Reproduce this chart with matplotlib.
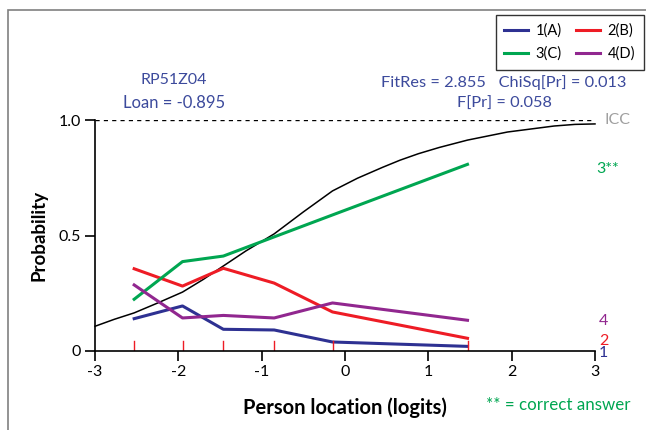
import matplotlib.pyplot as plt
from matplotlib.patches import Rectangle

plt.rcParams['font.family'] = ['Lato', 'DejaVu Sans']

# class interval locations (logits)
bins = [-2.53, -1.95, -1.46, -0.85, -0.15, 1.47]

# observed proportions per response option
opt1 = [0.140, 0.195, 0.094, 0.091, 0.039, 0.020]
opt2 = [0.356, 0.281, 0.358, 0.294, 0.169, 0.055]
opt3 = [0.224, 0.387, 0.411, 0.494, 0.589, 0.808]
opt4 = [0.286, 0.143, 0.154, 0.143, 0.208, 0.133]

# item characteristic curve
icc_x = [-3.0, -2.77, -2.53, -2.26, -1.95, -1.70, -1.46, -1.19, -0.85,
         -0.50, -0.15, 0.15, 0.45, 0.66, 0.88, 1.13, 1.47, 1.95, 2.51,
         2.76, 3.0]
icc_y = [0.107, 0.137, 0.165, 0.206, 0.255, 0.310, 0.368, 0.433, 0.507,
         0.602, 0.693, 0.748, 0.795, 0.826, 0.854, 0.881, 0.913, 0.948,
         0.974, 0.981, 0.983]

blue = '#2e3192'
red = '#ee1c25'
green = '#00a651'
purple = '#91278f'
txtblue = '#3c4a9c'

fig = plt.figure(figsize=(6.46, 4.30), dpi=100)
fig.patches.append(Rectangle((8/646, -0.1), 1.2, 1 - 10/430 + 0.1,
                             transform=fig.transFigure, fill=False,
                             edgecolor='#808080', linewidth=1.2))

ax = fig.add_axes([95/646, 1 - 351/430, 500/646, 231/430])
ax.set_xlim(-3, 3)
ax.set_ylim(0, 1.0)

ax.plot([-3, 3], [1, 1], '--', color='black', linewidth=1, dashes=(3, 3))
ax.plot(icc_x, icc_y, color='black', linewidth=1.1, clip_on=False)
l1, = ax.plot(bins, opt1, color=blue, linewidth=2.2, label='1(A)')
l2, = ax.plot(bins, opt2, color=red, linewidth=2.2, label='2(B)')
l3, = ax.plot(bins, opt3, color=green, linewidth=2.2, label='3(C)')
l4, = ax.plot(bins, opt4, color=purple, linewidth=2.2, label='4(D)')

# red interval markers
for b in bins:
    ax.plot([b, b], [0, 0.045], color=red, linewidth=1)

for s in ['top', 'right']:
    ax.spines[s].set_visible(False)
ax.spines['left'].set_linewidth(1.2)
ax.spines['bottom'].set_linewidth(1.2)
ax.set_xticks([-3, -2, -1, 0, 1, 2, 3])
ax.set_xticklabels(['-3', '-2', '-1', '0', '1', '2', '3'])
ax.set_yticks([0, 0.5, 1.0])
ax.set_yticklabels(['0', '0.5', '1.0'])
ax.tick_params(direction='out', length=7, width=1.2, labelsize=11.5,
               colors='black', pad=3)
ax.set_xlabel('Person location (logits)', fontsize=14.5, fontweight='bold',
              labelpad=13)
ax.set_ylabel('Probability', fontsize=13.5, fontweight='bold', labelpad=8)

ax.text(3.12, 1.0, 'ICC', color='#a0a0a0', fontsize=11.5, va='center',
        ha='left', clip_on=False)
ax.text(3.02, 0.79, '3**', color=green, fontsize=11.5, va='center',
        ha='left', clip_on=False)
ax.text(3.05, 0.128, '4', color=purple, fontsize=11.5, va='center',
        ha='left', clip_on=False)
ax.text(3.05, 0.045, '2', color=red, fontsize=11.5, va='center',
        ha='left', clip_on=False)
ax.text(3.05, -0.01, '1', color=blue, fontsize=11.5, va='center',
        ha='left', clip_on=False)

fig.text(174/646, 1 - 80/430, 'RP51Z04', color=txtblue, fontsize=11.5,
         ha='center', va='center')
fig.text(174/646, 1 - 103/430, 'Loan = -0.895', color=txtblue, fontsize=12,
         ha='center', va='center')
fig.text(504/646, 1 - 83/430, 'FitRes = 2.855   ChiSq[Pr] = 0.013',
         color=txtblue, fontsize=11.8, ha='center', va='center')
fig.text(504/646, 1 - 104/430, 'F[Pr] = 0.058', color=txtblue,
         fontsize=11.8, ha='center', va='center')
fig.text(558/646, 1 - 405/430, '** = correct answer', color=green,
         fontsize=12.2, ha='center', va='center')

# row-wise legend order: 1 2 / 3 4
fig.legend(handles=[l1, l3, l2, l4], ncol=2, loc='upper right',
           bbox_to_anchor=(644/646, 1 - 15/430), fontsize=10.5,
           frameon=True, fancybox=False, edgecolor='black',
           handlelength=1.6, columnspacing=1.0, handletextpad=0.55,
           borderpad=0.6, labelspacing=0.6, borderaxespad=0)

fig.savefig('out.png', dpi=100)
